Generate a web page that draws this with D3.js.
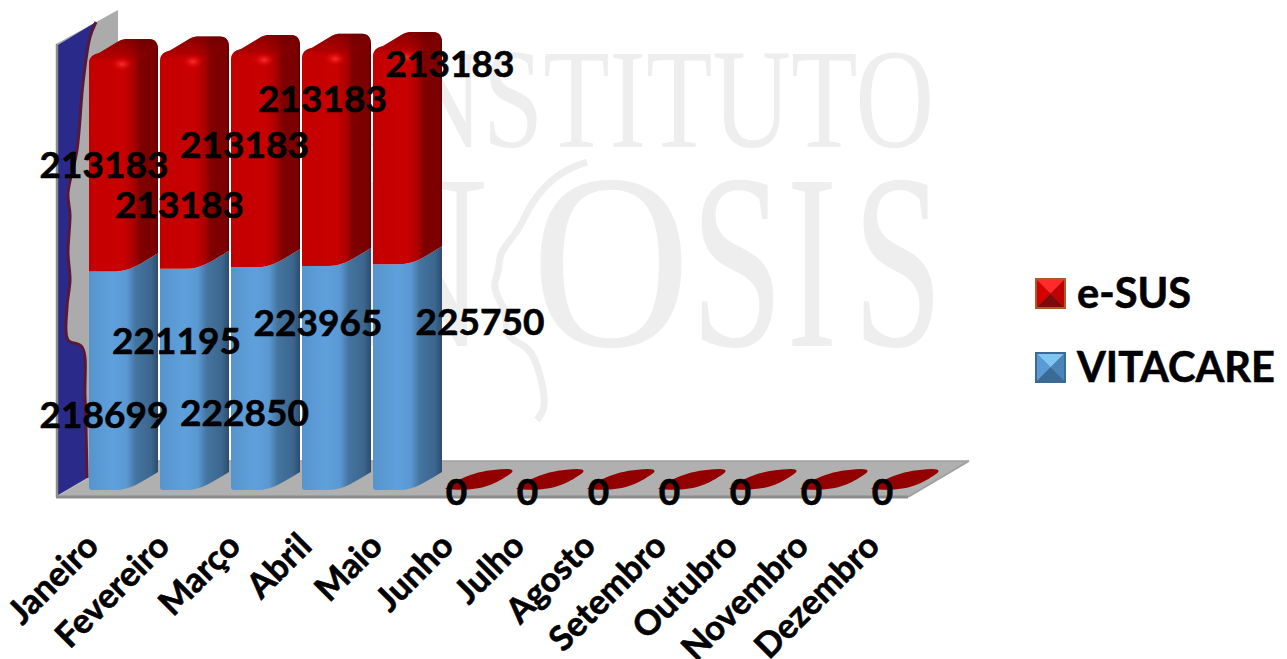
<!DOCTYPE html>
<html><head><meta charset="utf-8">
<script src="https://cdnjs.cloudflare.com/ajax/libs/d3/7.8.5/d3.min.js"></script>
<style>html,body{margin:0;padding:0;background:#fff}svg{display:block}text{font-family:Lato,sans-serif;font-weight:700;fill:#000}
.heavy text{stroke:#000;stroke-width:.6px}</style>
</head><body><svg id="c" width="1287" height="659"></svg>
<script>
const categories = ["Janeiro","Fevereiro","Março","Abril","Maio","Junho","Julho","Agosto","Setembro","Outubro","Novembro","Dezembro"];
const vitacare = [218699,221195,222850,223965,225750,0,0,0,0,0,0,0];
const esus = [213183,213183,213183,213183,213183,0,0,0,0,0,0,0];
const seriesNames = ["e-SUS","VITACARE"];
// hand-placed data-label offsets from each bar's front centre / segment end
const blueLabelDx = [-19.5,-18,-21,-18.5,72.5];
const blueLabelBase = [428,354,426,336,335];
const redLabelDx = [-19.5,-15,-21,-14,42.5];
const redLabelBase = [178,218,158,112,77];

const svg = d3.select("#c");
const defs = svg.append("defs");
function hGrad(id, stops){const g=defs.append("linearGradient").attr("id",id);stops.forEach(s=>g.append("stop").attr("offset",s[0]).attr("stop-color",s[1]));}
hGrad("red",[[0,"#bf0000"],[.05,"#c40000"],[.5,"#c80000"],[.66,"#a80000"],[.74,"#7e0000"],[.96,"#7c0000"],[1,"#5a0000"]]);
hGrad("blue",[[0,"#5794cc"],[.35,"#5fa0dc"],[.55,"#5a98d2"],[.68,"#44749f"],[.9,"#3c668e"],[1,"#2c4c6c"]]);
const cg=defs.append("linearGradient").attr("id","cap").attr("x1",0).attr("x2",0).attr("y1",0).attr("y2",1);
cg.append("stop").attr("offset",0).attr("stop-color","#6a0000").attr("stop-opacity",.7);
cg.append("stop").attr("offset",.7).attr("stop-color","#8a0000").attr("stop-opacity",.4);
cg.append("stop").attr("offset",1).attr("stop-color","#c00000").attr("stop-opacity",0);
const hg=defs.append("radialGradient").attr("id","hl");
hg.append("stop").attr("offset",0).attr("stop-color","#f83030");
hg.append("stop").attr("offset",1).attr("stop-color","#e00000").attr("stop-opacity",0);

const W=69, depth=18, floorY=497, floorBackY=461, plotL=56, plotR=908, barShift=33;
const x=d3.scaleBand().domain(categories).range([plotL,plotR]);
const y=d3.scaleLinear().domain([0,490000]).range([490,0]);
const bx=c=>x(c)+barShift;

/* watermark */
const wm=svg.append("g").style("pointer-events","none");
const serif=s=>s.style("font-family","'Liberation Serif',serif").style("font-weight",400).style("fill","#eeeeee");
serif(wm.append("text").text("INSTITUTO").attr("x",368).attr("y",147).attr("textLength",566).attr("lengthAdjust","spacingAndGlyphs").style("font-size","142px"));
const wmLetters=["N","O","S","I","S"], wmCentres=[416,611,737,812,898], wmStretch=[.8,.88,.67,.6,.65];
wmLetters.forEach((l,i)=>serif(wm.append("text").text(l).attr("text-anchor","middle")
  .attr("transform",`translate(${wmCentres[i]},346) scale(${wmStretch[i]},1)`).style("font-size","250px")));
const facePts=[[587,162],[557,173],[530,203],[520,230],[498,253],[500,270],[493,283],[497,297],[507,312],[505,340],[530,345],[540,373],[547,407],[537,420]];
wm.append("path").attr("d",d3.line().curve(d3.curveBasis)(facePts)).attr("fill","none").attr("stroke","#eeeeee").attr("stroke-width",7);

/* walls and floor */
const wallTopL=44, wallTopR=10, wallBackX=118;
svg.append("path").attr("d",`M${plotL},${floorY}L${plotR},${floorY}L969,${floorBackY}L${wallBackX},${floorBackY}Z`).attr("fill","#b0b0b0");
svg.append("path").attr("d",`M${plotL},${floorY}L${plotL},${wallTopL}L${wallBackX},${wallTopR}L${wallBackX},${floorBackY}Z`).attr("fill","#ababab");
const edge=[[96,22],[90,37],[83,83],[77,150],[68,193],[70,215],[68,253],[70,280],[67,307],[68,340],[82,347],[85,397],[87,478]];
const edgeLine=d3.line().curve(d3.curveCatmullRom)(edge);
svg.append("path").attr("d",`M58,45L96,22`+edgeLine.replace(/^M[^CL]*/,"")+`L58,495Z`).attr("fill","#2a2a8a");
svg.append("path").attr("d",edgeLine).attr("fill","none").attr("stroke","#5a1838").attr("stroke-width",3);
svg.append("line").attr("x1",plotL).attr("x2",plotR).attr("y1",floorY).attr("y2",floorY).attr("stroke","#8c8c8c").attr("stroke-width",3);
svg.append("line").attr("x1",plotL+1).attr("x2",plotL+1).attr("y1",wallTopL).attr("y2",floorY).attr("stroke","#8c8c8c").attr("stroke-width",2.5);
svg.append("line").attr("x1",plotR).attr("x2",969).attr("y1",floorY).attr("y2",floorBackY).attr("stroke","#a0a0a0").attr("stroke-width",2);
svg.append("line").attr("x1",wallBackX).attr("x2",969).attr("y1",floorBackY).attr("y2",floorBackY).attr("stroke","#a0a0a0").attr("stroke-width",1.5);

/* bar shape helpers */
const lowerEdge=(a,yy)=>`C${a+42},${yy} ${a+52},${yy-8} ${a+W},${yy-depth}`;
function segment(a,yb,yt){ // body between two curved edges
  return `M${a},${yt}L${a+26},${yt}${lowerEdge(a,yt)}L${a+W},${yb-depth}`+
    `C${a+52},${yb-8} ${a+42},${yb} ${a+26},${yb}L${a+3},${yb}Q${a},${yb} ${a},${yb-3}Z`;
}
function capped(a,yb,yf){ // top segment with rounded 3D cap
  return `M${a},${yb}L${a},${yf+5}C${a},${yf-2} ${a+6},${yf-4} ${a+10},${yf-5}L${a+30},${yf-17}C${a+33},${yf-18.5} ${a+36},${yf-19} ${a+38},${yf-19}`+
    `L${a+60},${yf-19}C${a+66},${yf-19} ${a+W},${yf-15} ${a+W},${yf-9}L${a+W},${yb-depth}`+
    `C${a+52},${yb-8} ${a+42},${yb} ${a+26},${yb}Z`;
}
function capTop(a,yf){
  return `M${a},${yf+5}C${a},${yf-2} ${a+6},${yf-4} ${a+10},${yf-5}L${a+30},${yf-17}C${a+33},${yf-18.5} ${a+36},${yf-19} ${a+38},${yf-19}`+
    `L${a+60},${yf-19}C${a+66},${yf-19} ${a+W},${yf-15} ${a+W},${yf-9}C${a+52},${yf+2} ${a+42},${yf+4} ${a+26},${yf+4}Z`;
}
function leaf(a,yb){
  return `M${a+1},${yb-1}C${a+16},${yb-13} ${a+34},${yb-20} ${a+62},${yb-21}C${a+W+2},${yb-21} ${a+W},${yb-18} ${a+W-3},${yb-16}C${a+50},${yb-5} ${a+36},${yb+2} ${a+1},${yb-1}Z`;
}
const bars=svg.append("g");
categories.forEach((c,i)=>{
  const a=bx(c), b=vitacare[i], r=esus[i];
  if(b===0&&r===0){bars.append("path").attr("d",leaf(a,y(0))).attr("fill","#930000");return;}
  const y1=y(b), y2=y(b+r);
  bars.append("path").attr("d",segment(a,y(0),y1)).attr("fill","url(#blue)");
  bars.append("path").attr("d",capped(a,y1,y2)).attr("fill","url(#red)");
  bars.append("path").attr("d",capTop(a,y2)).attr("fill","url(#cap)");
  bars.append("ellipse").attr("cx",a+33).attr("cy",y2+6).attr("rx",11).attr("ry",7).attr("fill","url(#hl)");
});

/* axis */
const axis=d3.axisBottom(x).tickSize(0).tickPadding(0);
const ag=svg.append("g").attr("class","heavy").attr("transform",`translate(0,${floorY})`).call(axis);
ag.select(".domain").remove();
ag.selectAll("text").attr("y",0).attr("dy",0).attr("text-anchor","end")
  .attr("transform","translate(9,51) rotate(-45)")
  .style("font-size","34.5px").style("font-family","Lato,sans-serif");

/* data labels */
const lab=svg.append("g").attr("class","heavy").style("font-size","37px").attr("text-anchor","middle");
categories.forEach((c,i)=>{
  const mid=bx(c)+W/2;
  if(vitacare[i]===0&&esus[i]===0){
    lab.append("text").text(esus[i]).attr("x",mid-22).attr("y",505);return;
  }
  lab.append("text").text(esus[i]).attr("x",mid+redLabelDx[i]).attr("y",redLabelBase[i]);
  lab.append("text").text(vitacare[i]).attr("x",mid+blueLabelDx[i]).attr("y",blueLabelBase[i]);
});

/* legend */
const swatchColors=[["#a85c28","#ff2a2a","#d40000","#c00000","#7c0a0a"],["#3a6a96","#80c4f0","#5b9bd5","#4a84b8","#3d6a94"]];
const leg=svg.append("g").attr("class","heavy");
seriesNames.forEach((n,i)=>{
  const sx=1035, sy=[278,352][i], s=31, m=s/2, cs=swatchColors[i], t=4;
  const g=leg.append("g").attr("transform",`translate(${sx},${sy})`);
  g.append("rect").attr("width",s).attr("height",s).attr("fill",cs[0]);
  [[`M${t-2},${t-2}L${s-t+2},${t-2}L${m},${m}Z`,cs[1]],[`M${t-2},${t-2}L${t-2},${s-t+2}L${m},${m}Z`,cs[2]],
   [`M${s-t+2},${t-2}L${s-t+2},${s-t+2}L${m},${m}Z`,cs[3]],[`M${t-2},${s-t+2}L${s-t+2},${s-t+2}L${m},${m}Z`,cs[4]]]
   .forEach(p=>g.append("path").attr("d",p[0]).attr("fill",p[1]));
  leg.append("text").text(n).attr("x",1077).attr("y",[308,382][i]).style("font-size","41.5px");
});
</script></body></html>
